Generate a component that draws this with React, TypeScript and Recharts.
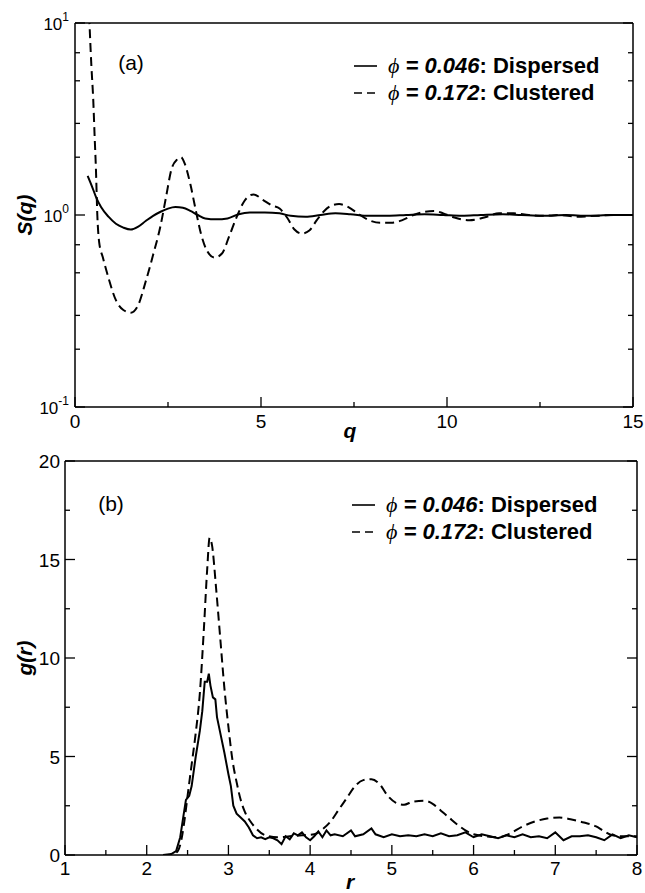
import { LineChart, Line, XAxis, YAxis, Legend } from 'recharts';

// panel (a): structure factor S(q)
const qClustered = [0.38, 0.44, 0.49, 0.53, 0.56, 0.6, 0.65, 0.75, 0.9, 1.1, 1.3, 1.5, 1.7, 1.9, 2.1, 2.3, 2.45, 2.6, 2.75, 2.85, 2.95, 3.1, 3.25, 3.4, 3.55, 3.75, 3.95, 4.15, 4.35, 4.55, 4.8, 5.05, 5.3, 5.5, 5.7, 5.9, 6.1, 6.3, 6.5, 6.7, 6.9, 7.1, 7.35, 7.6, 7.9, 8.2, 8.5, 8.8, 9.1, 9.4, 9.65, 9.9, 10.2, 10.6, 11.0, 11.4, 11.8, 12.2, 12.6, 13, 13.5, 14, 14.5, 15];
const sqClustered = [11, 6, 4, 2.5, 1.8, 1.0, 0.72, 0.6, 0.47, 0.36, 0.32, 0.31, 0.34, 0.45, 0.62, 0.88, 1.25, 1.75, 1.95, 2.0, 1.85, 1.45, 1.05, 0.78, 0.65, 0.6, 0.63, 0.78, 0.98, 1.18, 1.28, 1.2, 1.12, 1.08, 0.97, 0.84, 0.8, 0.83, 0.94, 1.05, 1.12, 1.14, 1.1, 1.02, 0.94, 0.91, 0.91, 0.94, 1.0, 1.04, 1.05, 1.02, 0.97, 0.94, 0.97, 1.02, 1.02, 1.0, 0.99, 1.0, 0.98, 0.99, 1.0, 1.0];
const qDispersed = [0.34, 0.45, 0.58, 0.7, 0.9, 1.1, 1.3, 1.5, 1.7, 1.9, 2.1, 2.3, 2.5, 2.7, 2.9, 3.1, 3.3, 3.5, 3.8, 4.1, 4.4, 4.7, 5.1, 5.5, 5.8, 6.2, 6.6, 7.0, 7.4, 7.9, 8.4, 8.9, 9.4, 9.9, 10.4, 10.9, 11.5, 12, 12.6, 13.2, 13.8, 14.4, 15];
const sqDispersed = [1.6, 1.42, 1.22, 1.1, 0.98, 0.9, 0.86, 0.84, 0.87, 0.93, 0.99, 1.04, 1.08, 1.1, 1.09, 1.05, 1.0, 0.96, 0.95, 0.96, 1.01, 1.03, 1.03, 1.02, 0.99, 0.98, 1.0, 1.02, 1.01, 0.99, 0.99, 1.0, 1.01, 1.0, 0.99, 1.0, 1.01, 1.0, 0.99, 1.0, 0.99, 1.0, 1.0];

// panel (b): pair distribution g(r)
const rClustered = [2.2, 2.3, 2.38, 2.43, 2.47, 2.5, 2.55, 2.6, 2.65, 2.7, 2.74, 2.77, 2.8, 2.85, 2.9, 2.95, 3.0, 3.05, 3.1, 3.15, 3.2, 3.27, 3.35, 3.45, 3.6, 3.75, 3.9, 4.05, 4.15, 4.25, 4.35, 4.45, 4.55, 4.65, 4.75, 4.85, 4.95, 5.05, 5.15, 5.25, 5.4, 5.5, 5.6, 5.7, 5.8, 5.9, 6.0, 6.15, 6.3, 6.45, 6.6, 6.75, 6.9, 7.05, 7.2, 7.35, 7.5, 7.6, 7.7, 7.85, 8.0];
const grClustered = [0, 0, 0.2, 0.9, 2.0, 3.0, 4.6, 6.2, 8.2, 11.5, 14.5, 16.1, 15.7, 13.5, 11.0, 8.5, 6.5, 4.8, 3.7, 2.8, 2.2, 1.7, 1.3, 1.0, 0.9, 0.95, 1.0, 1.05, 1.3, 1.7, 2.3, 2.9, 3.5, 3.8, 3.85, 3.6, 3.0, 2.65, 2.55, 2.7, 2.75, 2.6, 2.25, 1.9, 1.55, 1.25, 1.05, 0.95, 0.9, 1.1, 1.45, 1.7, 1.85, 1.9, 1.8, 1.65, 1.45, 1.2, 1.0, 0.95, 0.95];
const rDispersed = [2.2, 2.3, 2.36, 2.41, 2.45, 2.48, 2.52, 2.55, 2.6, 2.65, 2.68, 2.71, 2.74, 2.76, 2.78, 2.81, 2.84, 2.86, 2.9, 2.95, 3.0, 3.03, 3.06, 3.1, 3.15, 3.2, 3.25, 3.3, 3.35, 3.4, 3.45, 3.5, 3.55, 3.6, 3.65, 3.7, 3.75, 3.8, 3.85, 3.9, 3.95, 4.0, 4.05, 4.1, 4.15, 4.2, 4.25, 4.3, 4.4, 4.5, 4.55, 4.65, 4.75, 4.8, 4.9, 5.0, 5.1, 5.2, 5.3, 5.4, 5.5, 5.6, 5.7, 5.8, 5.9, 6.0, 6.1, 6.2, 6.3, 6.4, 6.5, 6.6, 6.7, 6.8, 6.9, 7.0, 7.1, 7.2, 7.3, 7.4, 7.5, 7.6, 7.7, 7.8, 7.9, 8.0];
const grDispersed = [0, 0.05, 0.2, 0.9, 2.0, 2.8, 3.0, 3.5, 5.0, 6.3, 7.3, 8.8, 8.8, 9.2, 8.6, 8.0, 7.9, 7.0, 6.2, 5.2, 4.1, 3.5, 2.5, 2.1, 1.9, 1.7, 1.4, 1.0, 0.85, 0.9, 0.8, 0.9, 0.85, 0.75, 0.55, 0.95, 0.8, 1.1, 1.0, 1.15, 0.9, 0.75, 0.95, 1.2, 0.9, 1.25, 1.0, 1.05, 0.95, 1.25, 0.95, 1.05, 1.35, 1.05, 0.9, 1.05, 0.95, 1.0, 0.95, 1.05, 0.95, 1.1, 0.95, 1.0, 1.15, 0.9, 1.05, 0.95, 0.85, 1.0, 0.9, 1.05, 0.9, 0.95, 0.85, 1.15, 0.75, 0.95, 0.95, 1.0, 0.9, 0.75, 1.05, 0.85, 1.0, 0.9];

const qTicks = [0, 2.5, 5, 7.5, 10, 12.5, 15];
const qMajor = [0, 5, 10, 15];
const sTicks = [0.1, 0.2, 0.3, 0.4, 0.5, 0.6, 0.7, 0.8, 0.9, 1, 2, 3, 4, 5, 6, 7, 8, 9, 10];
const sMajor = [0.1, 1, 10];
const rTicks = [1, 1.5, 2, 2.5, 3, 3.5, 4, 4.5, 5, 5.5, 6, 6.5, 7, 7.5, 8];
const rMajor = [1, 2, 3, 4, 5, 6, 7, 8];
const gTicks = [0, 2.5, 5, 7.5, 10, 12.5, 15, 17.5, 20];
const gMajor = [0, 5, 10, 15, 20];

const legendNames = ['0.046', '0.172'];
const legendLabels = ['Dispersed', 'Clustered'];

const zip = (xs: number[], ys: number[]) => xs.map((x, i) => ({ x, y: ys[i] }));

const FONT = '"Liberation Sans", Arial, Helvetica, sans-serif';

const isIn = (v: number, list: number[]) => list.some((m) => Math.abs(m - v) < 1e-6);

function AxisTick(props: any) {
  const { x, y, payload, side, majors, gap, log } = props;
  const v = payload.value as number;
  const major = isIn(v, majors);
  const len = major ? 10 : 5;
  const common = { stroke: '#000', strokeWidth: 1.3 };
  if (side === 'top') return <line x1={x} y1={y} x2={x} y2={y + len} {...common} />;
  if (side === 'right') return <line x1={x} y1={y} x2={x - len} y2={y} {...common} />;
  if (side === 'bottom') {
    return (
      <g>
        <line x1={x} y1={y} x2={x} y2={y - len} {...common} />
        {major && (
          <text x={x} y={y + gap} textAnchor="middle" fontSize={19} fontFamily={FONT} fill="#000">
            {v}
          </text>
        )}
      </g>
    );
  }
  return (
    <g>
      <line x1={x} y1={y} x2={x + len} y2={y} {...common} />
      {major &&
        (log ? (
          <text x={x - 6} y={y + 7} textAnchor="end" fontSize={17} fontFamily={FONT} fill="#000">
            10
            <tspan dy={-9} fontSize={12}>
              {Math.round(Math.log10(v))}
            </tspan>
          </text>
        ) : (
          <text x={x - 5} y={y + 7} textAnchor="end" fontSize={19} fontFamily={FONT} fill="#000">
            {v}
          </text>
        ))}
    </g>
  );
}

function LegendBox() {
  return (
    <div style={{ fontFamily: FONT, fontWeight: 'bold', fontSize: 22, color: '#000' }}>
      {legendNames.map((n, i) => (
        <div key={n} style={{ display: 'flex', alignItems: 'center', height: 27, whiteSpace: 'nowrap' }}>
          <svg width={36} height={10}>
            <line x1={2} y1={5} x2={25} y2={5} stroke="#000" strokeWidth={1.6} strokeDasharray={i === 0 ? undefined : '8 5'} />
          </svg>
          <span style={{ fontFamily: '"Liberation Serif", serif', fontStyle: 'italic', fontWeight: 'normal' }}>ϕ</span>
          <span style={{ fontStyle: 'italic' }}>&nbsp;= {n}</span>
          <span>: {legendLabels[i]}</span>
        </div>
      ))}
    </div>
  );
}

const textStyle = (left: number, top: number, rotate = false): React.CSSProperties => ({
  position: 'absolute',
  left,
  top,
  transform: `translate(-50%, -50%)${rotate ? ' rotate(-90deg)' : ''}`,
  fontFamily: FONT,
  fontWeight: 'bold',
  fontStyle: 'italic',
  fontSize: 21,
  lineHeight: 1,
  whiteSpace: 'nowrap',
  color: '#000',
});

export default function App() {
  return (
    <div style={{ position: 'absolute', left: 0, top: 0, width: 645, height: 893, background: '#fff' }}>
      <div style={{ position: 'absolute', left: 0, top: 0 }}>
        <LineChart width={645} height={440} margin={{ top: 20, right: 10, bottom: 3, left: 15 }}>
          <XAxis dataKey="x" type="number" domain={[0, 15]} ticks={qTicks} allowDataOverflow height={30}
            axisLine={{ stroke: '#000', strokeWidth: 1.5 }} tickLine={false} tickSize={0} tickMargin={0}
            tick={(p: any) => <AxisTick {...p} side="bottom" majors={qMajor} gap={21} />} />
          <XAxis xAxisId="top" orientation="top" type="number" domain={[0, 15]} ticks={qTicks} allowDataOverflow height={3}
            axisLine={{ stroke: '#000', strokeWidth: 1.5 }} tickLine={false} tickSize={0} tickMargin={0}
            tick={(p: any) => <AxisTick {...p} side="top" majors={qMajor} />} />
          <YAxis type="number" scale="log" domain={[0.1, 10]} ticks={sTicks} allowDataOverflow width={60}
            axisLine={{ stroke: '#000', strokeWidth: 1.5 }} tickLine={false} tickSize={0} tickMargin={0}
            tick={(p: any) => <AxisTick {...p} side="left" majors={sMajor} log />} />
          <YAxis yAxisId="right" orientation="right" type="number" scale="log" domain={[0.1, 10]} ticks={sTicks} allowDataOverflow width={2}
            axisLine={{ stroke: '#000', strokeWidth: 1.5 }} tickLine={false} tickSize={0} tickMargin={0}
            tick={(p: any) => <AxisTick {...p} side="right" majors={sMajor} />} />
          <Legend layout="vertical" align="center" verticalAlign="middle" content={() => <LegendBox />}
            wrapperStyle={{ top: 52, left: 352, width: 280 }} />
          <Line data={zip(qDispersed, sqDispersed)} dataKey="y" type="monotone" stroke="#000" strokeWidth={2} dot={false} isAnimationActive={false} />
          <Line data={zip(qClustered, sqClustered)} dataKey="y" type="monotone" stroke="#000" strokeWidth={2} strokeDasharray="9 5" dot={false} isAnimationActive={false} />
        </LineChart>
      </div>
      <div style={{ position: 'absolute', left: 0, top: 440 }}>
        <LineChart width={645} height={453} margin={{ top: 18, right: 6, bottom: 8, left: 15 }}>
          <XAxis dataKey="x" type="number" domain={[1, 8]} ticks={rTicks} allowDataOverflow height={30}
            axisLine={{ stroke: '#000', strokeWidth: 1.5 }} tickLine={false} tickSize={0} tickMargin={0}
            tick={(p: any) => <AxisTick {...p} side="bottom" majors={rMajor} gap={20} />} />
          <XAxis xAxisId="top" orientation="top" type="number" domain={[1, 8]} ticks={rTicks} allowDataOverflow height={3}
            axisLine={{ stroke: '#000', strokeWidth: 1.5 }} tickLine={false} tickSize={0} tickMargin={0}
            tick={(p: any) => <AxisTick {...p} side="top" majors={rMajor} />} />
          <YAxis type="number" domain={[0, 20]} ticks={gTicks} allowDataOverflow width={50}
            axisLine={{ stroke: '#000', strokeWidth: 1.5 }} tickLine={false} tickSize={0} tickMargin={0}
            tick={(p: any) => <AxisTick {...p} side="left" majors={gMajor} />} />
          <YAxis yAxisId="right" orientation="right" type="number" domain={[0, 20]} ticks={gTicks} allowDataOverflow width={2}
            axisLine={{ stroke: '#000', strokeWidth: 1.5 }} tickLine={false} tickSize={0} tickMargin={0}
            tick={(p: any) => <AxisTick {...p} side="right" majors={gMajor} />} />
          <Legend layout="vertical" align="center" verticalAlign="middle" content={() => <LegendBox />}
            wrapperStyle={{ top: 51, left: 350, width: 285 }} />
          <Line data={zip(rDispersed, grDispersed)} dataKey="y" type="linear" stroke="#000" strokeWidth={2} dot={false} isAnimationActive={false} />
          <Line data={zip(rClustered, grClustered)} dataKey="y" type="monotone" stroke="#000" strokeWidth={2} strokeDasharray="9 5" dot={false} isAnimationActive={false} />
        </LineChart>
      </div>
      <div style={{ ...textStyle(131, 62), fontWeight: 'normal', fontStyle: 'normal', fontSize: 21 }}>(a)</div>
      <div style={{ ...textStyle(111, 503), fontWeight: 'normal', fontStyle: 'normal', fontSize: 21 }}>(b)</div>
      <div style={textStyle(24, 215, true)}>S(q)</div>
      <div style={textStyle(350, 430)}>q</div>
      <div style={textStyle(24, 658, true)}>g(r)</div>
      <div style={textStyle(350, 881)}>r</div>
    </div>
  );
}
